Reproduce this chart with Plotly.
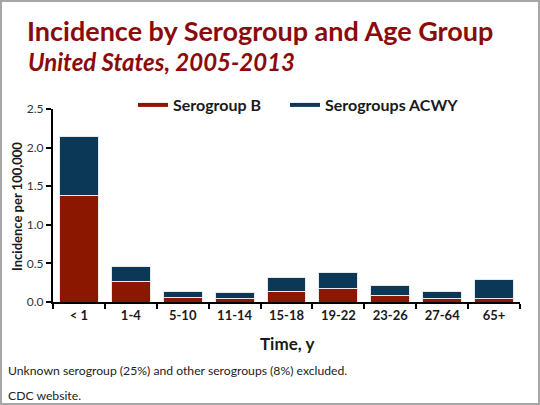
import plotly.graph_objects as go

age_groups = ["< 1", "1-4", "5-10", "11-14", "15-18", "19-22", "23-26", "27-64", "65+"]
serogroup_b = [1.38, 0.27, 0.06, 0.04, 0.13, 0.17, 0.085, 0.045, 0.04]
serogroups_acwy = [0.77, 0.19, 0.07, 0.08, 0.19, 0.21, 0.135, 0.085, 0.25]
y_ticks = [0.0, 0.5, 1.0, 1.5, 2.0, 2.5]
y_ticklabels = ["0.0", "0.5", "1.0", "1.5", "2.0", "2.5"]

RED = "#8B1700"
BLUE = "#0B3856"
TITLE_RED = "#8B0B0B"
FONT = "Lato"

W, H = 540, 405
L, R, T, B = 53, 20, 109, 103
PW, PH = W - L - R, H - T - B


def px_x(px):
    return (px - L) / PW


def px_y(py):
    return (H - B - py) / PH


fig = go.Figure()
fig.add_trace(go.Bar(x=age_groups, y=serogroup_b, marker=dict(color=RED, line=dict(color="#E8E8E8", width=1)),
                     showlegend=False, name="Serogroup B"))
fig.add_trace(go.Bar(x=age_groups, y=serogroups_acwy, marker=dict(color=BLUE, line=dict(color="#E8E8E8", width=1)),
                     showlegend=False, name="Serogroups ACWY"))
# legend entries (line-shaped keys)
fig.add_trace(go.Scatter(x=[None], y=[None], mode="lines", line=dict(color=RED, width=4), name="Serogroup B",
                         legend="legend"))
fig.add_trace(go.Scatter(x=[None], y=[None], mode="lines", line=dict(color=BLUE, width=4), name="Serogroups ACWY",
                         legend="legend2"))

legend_font = dict(family=FONT, size=16, color="#1a1a1a", weight="bold")

fig.update_layout(
    width=W, height=H,
    margin=dict(l=L, r=R, t=T, b=B, pad=0),
    paper_bgcolor="white", plot_bgcolor="white",
    barmode="stack", bargap=0.25,
    font=dict(family=FONT, color="#222222"),
    legend=dict(orientation="h", x=px_x(133), xanchor="left", y=px_y(105), yanchor="middle",
                font=legend_font, bgcolor="rgba(0,0,0,0)", itemwidth=30),
    legend2=dict(orientation="h", x=px_x(285), xanchor="left", y=px_y(105), yanchor="middle",
                 font=legend_font, bgcolor="rgba(0,0,0,0)", itemwidth=30),
    xaxis=dict(showline=True, linecolor="black", linewidth=2, ticks="outside", tickson="boundaries",
               ticklen=5, tickwidth=2, tickcolor="black", showgrid=False, zeroline=False,
               tickfont=dict(family=FONT, size=13, color="#1a1a1a", weight="bold")),
    yaxis=dict(range=[0, 2.5], tickvals=y_ticks, ticktext=y_ticklabels, showline=True, linecolor="black",
               linewidth=2, ticks="outside", ticklen=5, tickwidth=2, tickcolor="black", showgrid=False,
               zeroline=False, tickfont=dict(family=FONT, size=12, color="#333333")),
    shapes=[dict(type="rect", xref="paper", yref="paper",
                 x0=px_x(1), x1=px_x(W - 1), y0=px_y(H - 1), y1=px_y(1),
                 line=dict(color="#A6A6A6", width=2), fillcolor="rgba(0,0,0,0)", layer="above")],
    annotations=[
        dict(text="Incidence by Serogroup and Age Group", xref="paper", yref="paper", x=px_x(25), y=px_y(31),
             xanchor="left", yanchor="middle", showarrow=False,
             font=dict(family=FONT, size=27, color=TITLE_RED, weight="bold")),
        dict(text="<i>United States, 2005-2013</i>", xref="paper", yref="paper", x=px_x(26), y=px_y(61),
             xanchor="left", yanchor="middle", showarrow=False,
             font=dict(family=FONT, size=24, color=TITLE_RED, weight="bold")),
        dict(text="Incidence per 100,000", xref="paper", yref="paper", x=px_x(17), y=px_y(207),
             xanchor="center", yanchor="middle", textangle=-90, showarrow=False,
             font=dict(family=FONT, size=13, color="#1a1a1a", weight="bold")),
        dict(text="Time, y", xref="paper", yref="paper", x=px_x(287), y=px_y(343),
             xanchor="center", yanchor="middle", showarrow=False,
             font=dict(family=FONT, size=17, color="#1a1a1a", weight="bold")),
        dict(text="Unknown serogroup (25%) and other serogroups (8%) excluded.", xref="paper", yref="paper",
             x=px_x(6), y=px_y(370), xanchor="left", yanchor="middle", showarrow=False,
             font=dict(family=FONT, size=12.2, color="#222222")),
        dict(text="CDC website.", xref="paper", yref="paper",
             x=px_x(6), y=px_y(395), xanchor="left", yanchor="middle", showarrow=False,
             font=dict(family=FONT, size=12.2, color="#222222")),
    ],
)

fig.write_html("out.html", config={"displayModeBar": False},
               post_script="document.body.style.margin='0';")
